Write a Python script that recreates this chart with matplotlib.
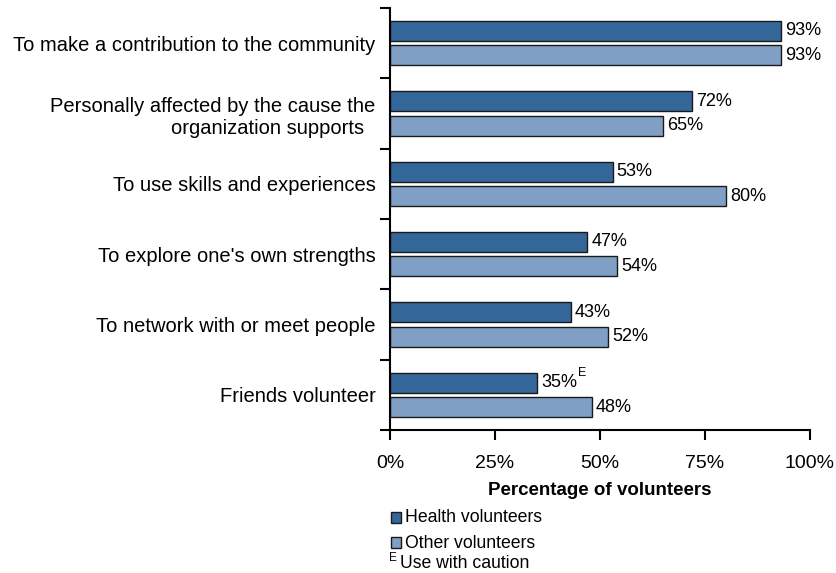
import matplotlib
matplotlib.use("Agg")
import matplotlib.pyplot as plt
from matplotlib.patches import Rectangle
import numpy as np

plt.rcParams['font.family'] = ['Liberation Sans', 'DejaVu Sans']

categories = [
    "To make a contribution to the community",
    "Personally affected by the cause the\norganization supports  ",
    "To use skills and experiences",
    "To explore one's own strengths",
    "To network with or meet people",
    "Friends volunteer",
]
health = [93, 72, 53, 47, 43, 35]
other = [93, 65, 80, 54, 52, 48]
health_flags = ["", "", "", "", "", "E"]
xticks = [0, 25, 50, 75, 100]
xticklabels = ["0%", "25%", "50%", "75%", "100%"]

dark = "#336699"
light = "#7f9fc4"
edge = "#1a1a1a"
fs = 13

fig = plt.figure(figsize=(8.37, 5.73), dpi=100)
ax = fig.add_axes([390/837, 1 - 430/573, 420/837, 422/573])

n = len(categories)
centers = np.arange(n) + 0.5
bh = 0.285
off = 0.175
ax.barh(centers - off, health, height=bh, color=dark, edgecolor=edge, linewidth=1)
ax.barh(centers + off, other, height=bh, color=light, edgecolor=edge, linewidth=1)

for c, v, f in zip(centers, health, health_flags):
    t = ax.text(v + 1, c - off, f"{v}%", va='center', ha='left', fontsize=fs)
    if f:
        ax.annotate(f, xy=(1, 1), xycoords=t, xytext=(0.3, 1), textcoords='offset points',
                    fontsize=9, va='center', ha='left')
for c, v in zip(centers, other):
    ax.text(v + 1, c + off, f"{v}%", va='center', ha='left', fontsize=fs)

ax.set_xlim(0, 100)
ax.set_ylim(n, 0)
ax.set_xticks(xticks)
ax.set_xticklabels(xticklabels, fontsize=14)
ax.set_yticks(np.arange(n + 1))
ax.set_yticklabels([])
ax.set_yticks(centers, minor=True)
ax.set_yticklabels(categories, minor=True, fontsize=14.5, ha='right', multialignment='right')
ax.tick_params(axis='y', which='minor', length=0, pad=10.5)
ax.tick_params(axis='y', which='major', length=7, width=1.5, direction='out')
ax.tick_params(axis='x', length=7, width=1.5, direction='out', pad=11)
for s in ['top', 'right']:
    ax.spines[s].set_visible(False)
for s in ['left', 'bottom']:
    ax.spines[s].set_linewidth(1.5)
ax.set_xlabel("Percentage of volunteers", fontsize=13.5, fontweight='bold', labelpad=7)

# legend
for y, col, lab in [(518, dark, "Health volunteers"), (543, light, "Other volunteers")]:
    fig.patches.append(Rectangle((391/837, 1 - (y + 5)/573), 10/837, 11/573,
                                 transform=fig.transFigure, facecolor=col,
                                 edgecolor=edge, linewidth=1))
    fig.text(405/837, 1 - y/573, lab, fontsize=12.7, va='center', ha='left')
fig.text(389/837, 1 - 558/573, "E", fontsize=8.5, va='center', ha='left')
fig.text(400/837, 1 - 564/573, "Use with caution", fontsize=12.7, va='center', ha='left')

fig.savefig("out.png", dpi=100)
